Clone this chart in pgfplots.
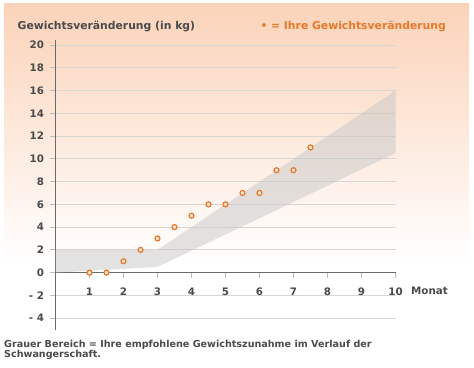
\documentclass[border=0pt]{standalone}
\usepackage{pgfplots}
\pgfplotsset{compat=1.18}
\usepackage{fontspec}
\setmainfont{DejaVu Sans}
\definecolor{txt}{HTML}{4A4A4A}
\definecolor{org}{HTML}{E8782A}
\definecolor{peach}{HTML}{FBD3B9}
\definecolor{bandc}{HTML}{C8C8C8}
\definecolor{gridc}{HTML}{D9D5D1}
\definecolor{axc}{HTML}{6A6A6A}
\newcommand{\tf}{\bfseries\fontsize{10.8}{12}\selectfont}
\newcommand{\cf}{\bfseries\fontsize{9.6}{11}\selectfont}
\newcommand{\lf}{\bfseries\fontsize{10.3}{12}\selectfont}
\begin{document}
\begin{tikzpicture}
\path[use as bounding box] (0pt,0pt) rectangle (474pt,367pt);
\shade[top color=peach, bottom color=white] (4pt,104pt) rectangle (469pt,363pt);
\begin{axis}[
  at={(55.5pt,37.4pt)}, anchor=south west,
  scale only axis, width=340pt, height=289.2pt,
  xmin=0, xmax=10, ymin=-5, ymax=20.4,
  clip=false,
  axis x line=middle, axis y line=left,
  axis line style={-, color=axc, line width=1.1pt},
  xtick={1,2,3,4,5,6,7,8,9,10}, ytick={-4,-2,0,2,4,6,8,10,12,14,16,18,20},
  yticklabels={- 4,- 2,0,2,4,6,8,10,12,14,16,18,20},
  tick align=outside,
  major tick length=5pt,
  tick style={color=gridc!70!gray, line width=0.8pt},
  ymajorgrids,
  grid style={color=gridc, line width=0.9pt},
  /pgf/number format/assume math mode=true,
  tick label style={font=\lf, color=txt},
  xticklabel style={yshift=-7pt},
  yticklabel style={xshift=-3pt},
]
\addplot[fill=bandc, fill opacity=0.5, draw=none]
  coordinates {(0,0) (3,0.5) (10,10.5) (10,16) (3,2) (0,2) (0,0)};
\addplot[only marks, mark=*, mark size=2.5pt,
  mark options={draw=org, fill=white!80!org, line width=1.2pt}]
  coordinates {(1,0) (1.5,0) (2,1) (2.5,2) (3,3) (3.5,4) (4,5) (4.5,6) (5,6)
               (5.5,7) (6,7) (6.5,9) (7,9) (7.5,11)};
\end{axis}
\node[anchor=base west, font=\lf, text=txt, inner sep=0pt] at (411pt,72pt) {Monat};
\node[anchor=base west, font=\tf, text=txt, inner sep=0pt] at (17.5pt,337.5pt) {Gewichtsveränderung (in kg)};
\node[anchor=base east, font=\tf, text=org, inner sep=0pt] at (446pt,337.5pt) {• = Ihre Gewichtsveränderung};
\node[anchor=base west, font=\cf, text=txt, inner sep=0pt] at (4pt,19.5pt) {Grauer Bereich = Ihre empfohlene Gewichtszunahme im Verlauf der};
\node[anchor=base west, font=\cf, text=txt, inner sep=0pt] at (4pt,9.5pt) {Schwangerschaft.};
\end{tikzpicture}
\end{document}
